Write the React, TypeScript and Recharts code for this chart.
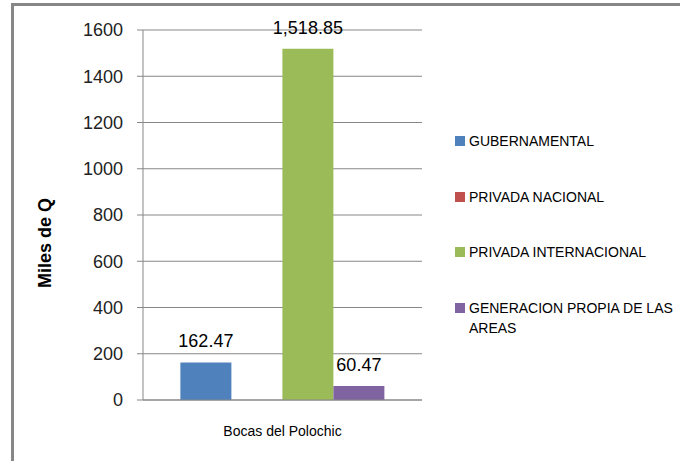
import React from "react";
import {
  BarChart, Bar, XAxis, YAxis, CartesianGrid, Legend, LabelList,
} from "recharts";

const categories = ["Bocas del Polochic"];
const gubernamental = [162.47];
const privadaNacional: (number | null)[] = [null];
const privadaInternacional = [1518.85];
const generacionPropia = [60.47];
const yTicks = [0, 200, 400, 600, 800, 1000, 1200, 1400, 1600];

const SERIES = [
  { key: "gub", name: "GUBERNAMENTAL", color: "#4F81BD", values: gubernamental },
  { key: "pnac", name: "PRIVADA NACIONAL", color: "#C0504D", values: privadaNacional },
  { key: "pint", name: "PRIVADA INTERNACIONAL", color: "#9BBB59", values: privadaInternacional },
  { key: "gen", name: "GENERACION PROPIA DE LAS AREAS", color: "#8064A2", values: generacionPropia },
];

const data = categories.map((name, i) => {
  const row: Record<string, string | number | null> = { name };
  SERIES.forEach((s) => { row[s.key] = s.values[i]; });
  return row;
});

const GRID = "#878787";

const fmt = (v: unknown) =>
  v == null ? "" : Number(v).toLocaleString("en-US", { minimumFractionDigits: 2, maximumFractionDigits: 2 });

// keep series order (recharts 3 sorts legend items by name)
function LegendBox() {
  return (
    <div style={{ fontSize: 14, color: "#000", lineHeight: "20px" }}>
      {SERIES.map((s) => (
        <div key={s.key} style={{ display: "flex", alignItems: "flex-start", marginBottom: 35.5 }}>
          <div style={{ width: 10, height: 10, background: s.color, marginTop: 5, marginRight: 4, flexShrink: 0 }} />
          <div>{s.name}</div>
        </div>
      ))}
    </div>
  );
}

function YLabel({ viewBox }: any) {
  const x = viewBox.x + 45;
  const y = viewBox.y + viewBox.height / 2 + 28;
  return (
    <text x={x} y={y} transform={`rotate(-90 ${x} ${y})`} textAnchor="middle"
      dominantBaseline="central" fontSize={18} fontWeight="bold" fill="#000">
      Miles de Q
    </text>
  );
}

export default function App() {
  return (
    <div style={{
      position: "fixed", left: 0, top: 0, width: 680, height: 461, overflow: "hidden",
      background: "#fff", fontFamily: "'Liberation Sans', Arial, sans-serif",
    }}>
      <div style={{
        position: "absolute", left: 11, top: 3, width: 720, height: 520,
        border: `3px solid ${GRID}`,
      }} />
      <div style={{ position: "absolute", left: 0, top: 0 }}>
        <BarChart width={680} height={461} data={data}
          margin={{ top: 30, right: 258, bottom: 31, left: 0 }}
          barCategoryGap="13.4%" barGap={0}>
          <CartesianGrid vertical={false} stroke={GRID} />
          <XAxis dataKey="name" height={30} stroke={GRID} tickLine={false} tickSize={0} tickMargin={26}
            tick={{ fontSize: 14, fill: "#000" }} />
          <YAxis domain={[0, 1600]} ticks={yTicks} width={143} stroke={GRID}
            tickSize={6} tickMargin={14} tick={{ fontSize: 18, fill: "#222" }}
            label={{ content: YLabel }} />
          <Legend layout="vertical" align="center" verticalAlign="middle"
            content={LegendBox as any}
            wrapperStyle={{ left: 455, top: 131, width: 225 }} />
          {SERIES.map((s) => (
            <Bar key={s.key} dataKey={s.key} name={s.name} fill={s.color} isAnimationActive={false}>
              {s.key !== "pnac" && (
                <LabelList dataKey={s.key} position="top" offset={15}
                  formatter={fmt as any} fontSize={18} fill="#000" />
              )}
            </Bar>
          ))}
        </BarChart>
      </div>
    </div>
  );
}
